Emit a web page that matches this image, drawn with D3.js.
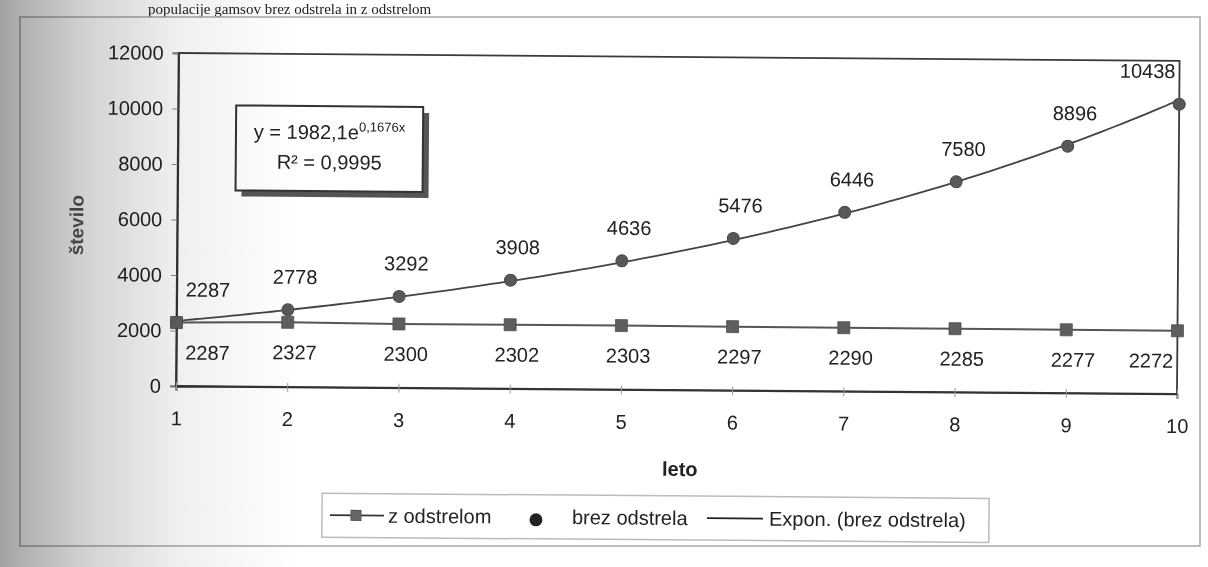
<!DOCTYPE html>
<html>
<head>
<meta charset="utf-8">
<script src="https://cdn.jsdelivr.net/npm/d3@7"></script>
<style>
  html, body { margin: 0; padding: 0; background: #ffffff; }
  svg { display: block; font-family: "Liberation Sans", Arial, sans-serif; }
</style>
</head>
<body>
<svg id="chart" width="1208" height="567"></svg>
<script>
// Population of chamois over ten years, with and without culling
const years = [1, 2, 3, 4, 5, 6, 7, 8, 9, 10];
const zOdstrelom = [2287, 2327, 2300, 2302, 2303, 2297, 2290, 2285, 2277, 2272];
const brezOdstrela = [2287, 2778, 3292, 3908, 4636, 5476, 6446, 7580, 8896, 10438];
const yTicks = [0, 2000, 4000, 6000, 8000, 10000, 12000];
// exponential trendline fitted to "brez odstrela": y = A * e^(B x)
const trendA = 1982.1;
const trendB = 0.1676;
const trendR2 = "0,9995";
const seriesNames = ["z odstrelom", "brez odstrela", "Expon. (brez odstrela)"];
const caption = "populacije gamsov brez odstrela in z odstrelom";

const W = 1208, H = 567;
const svg = d3.select("#chart");
const defs = svg.append("defs");

// paper background
svg.append("rect").attr("width", W).attr("height", H).attr("fill", "#ffffff");

// caption line above the chart
svg.append("text")
  .attr("x", 148).attr("y", 14)
  .attr("font-family", "'Liberation Serif', 'Times New Roman', serif")
  .attr("font-size", 15)
  .attr("fill", "#222")
  .text(caption);

// chart area frame
svg.append("rect")
  .attr("x", 20).attr("y", 17).attr("width", 1180).attr("height", 529)
  .attr("fill", "none").attr("stroke", "#a9a9a9").attr("stroke-width", 1.5);

// plot geometry
const plot = { left: 176, right: 1177, top: 53, bottom: 386 };
const x = d3.scaleLinear().domain([1, 10]).range([plot.left, plot.right]);
const y = d3.scaleLinear().domain([0, 12000]).range([plot.bottom, plot.top]);

// the whole chart sits with a slight tilt
const g = svg.append("g")
  .attr("transform", `rotate(0.45, ${plot.left}, ${plot.bottom})`);

// plot area border
g.append("rect")
  .attr("x", plot.left).attr("y", plot.top)
  .attr("width", plot.right - plot.left).attr("height", plot.bottom - plot.top)
  .attr("fill", "none").attr("stroke", "#3a3a3a").attr("stroke-width", 1.8);

// y axis
const yAxis = d3.axisLeft(y).tickValues(yTicks).tickSize(6).tickPadding(9)
  .tickFormat(d3.format("d"));
const yAxisG = g.append("g").attr("transform", `translate(${plot.left},0)`).call(yAxis);
yAxisG.select(".domain").attr("stroke", "#333").attr("stroke-width", 1.8);
yAxisG.selectAll(".tick line").attr("stroke", "#888");
yAxisG.selectAll(".tick text")
  .attr("font-size", 20).attr("fill", "#222")
  .attr("font-family", "'Liberation Sans', Arial, sans-serif");

// x axis (category ticks on the points)
const xAxis = d3.axisBottom(x).tickValues(years).tickSize(5).tickPadding(20)
  .tickFormat(d3.format("d"));
const xAxisG = g.append("g").attr("transform", `translate(0,${plot.bottom})`).call(xAxis);
xAxisG.select(".domain").attr("stroke", "#333").attr("stroke-width", 1.8);
xAxisG.selectAll(".tick line").attr("stroke", "#999").attr("y1", -4);
xAxisG.selectAll(".tick text")
  .attr("font-size", 20).attr("fill", "#222")
  .attr("font-family", "'Liberation Sans', Arial, sans-serif");

// axis titles
g.append("text")
  .attr("transform", `translate(${(plot.left + plot.right) / 2 + 4}, 472)`)
  .attr("text-anchor", "middle")
  .attr("font-size", 20).attr("font-weight", "bold").attr("fill", "#222")
  .text("leto");
g.append("text")
  .attr("transform", "translate(82, 226) rotate(-90)")
  .attr("text-anchor", "middle")
  .attr("font-size", 19).attr("font-weight", "bold").attr("fill", "#555")
  .text("število");

// series: z odstrelom (line + square markers)
const rows = years.map((yr, i) => ({ yr, z: zOdstrelom[i], b: brezOdstrela[i] }));
const zLine = d3.line().x(d => x(d.yr)).y(d => y(d.z));
g.append("path").datum(rows)
  .attr("d", zLine).attr("fill", "none")
  .attr("stroke", "#555").attr("stroke-width", 2);

// exponential trendline of brez odstrela
const trendPts = d3.range(1, 10.001, 0.1).map(t => ({ t, v: trendA * Math.exp(trendB * t) }));
g.append("path").datum(trendPts)
  .attr("d", d3.line().x(d => x(d.t)).y(d => y(d.v)).curve(d3.curveBasis))
  .attr("fill", "none").attr("stroke", "#444").attr("stroke-width", 1.8);

// brez odstrela markers (circles, no connecting line)
g.selectAll("circle.brez").data(rows).join("circle")
  .attr("class", "brez")
  .attr("cx", d => x(d.yr)).attr("cy", d => y(d.b)).attr("r", 6)
  .attr("fill", "#585858").attr("stroke", "#4a4a4a").attr("stroke-width", 1);

// z odstrelom markers
const sq = 12;
g.selectAll("rect.z").data(rows).join("rect")
  .attr("class", "z")
  .attr("x", d => x(d.yr) - sq / 2).attr("y", d => y(d.z) - sq / 2)
  .attr("width", sq).attr("height", sq)
  .attr("fill", "#5e5e5e").attr("stroke", "#505050").attr("stroke-width", 0.8);

// data labels, kept inside the plot area
const labelFont = 20;
const approxW = s => String(s).length * 0.556 * labelFont;
function labelX(cx, text) {
  const w = approxW(text);
  let c = cx + 7;
  if (c - w / 2 < plot.left + 9) c = plot.left + 9 + w / 2;
  if (c + w / 2 > plot.right - 4) c = plot.right - 4 - w / 2;
  return c;
}
g.selectAll("text.lblB").data(rows).join("text")
  .attr("class", "lblB")
  .attr("x", d => labelX(x(d.yr), d.b))
  .attr("y", d => y(d.b) - 26)
  .attr("text-anchor", "middle")
  .attr("font-size", labelFont).attr("fill", "#222")
  .text(d => d.b);
g.selectAll("text.lblZ").data(rows).join("text")
  .attr("class", "lblZ")
  .attr("x", d => labelX(x(d.yr), d.z))
  .attr("y", d => y(d.z) + 37)
  .attr("text-anchor", "middle")
  .attr("font-size", labelFont).attr("fill", "#222")
  .text(d => d.z);

// trendline equation box with drop shadow
const eq = { x: 234, y: 105, w: 187, h: 85 };
g.append("rect")
  .attr("x", eq.x + 6).attr("y", eq.y + 6).attr("width", eq.w).attr("height", eq.h)
  .attr("fill", "#555");
g.append("rect")
  .attr("x", eq.x).attr("y", eq.y).attr("width", eq.w).attr("height", eq.h)
  .attr("fill", "#fff").attr("stroke", "#333").attr("stroke-width", 2);
const eqText = g.append("text")
  .attr("x", eq.x + eq.w / 2).attr("y", eq.y + 33)
  .attr("text-anchor", "middle").attr("font-size", 20).attr("fill", "#222");
eqText.append("tspan").text(`y = ${String(trendA).replace(".", ",")}e`);
eqText.append("tspan").attr("font-size", 13).attr("dy", -8)
  .text(`${String(trendB).replace(".", ",")}x`);
g.append("text")
  .attr("x", eq.x + eq.w / 2).attr("y", eq.y + 63)
  .attr("text-anchor", "middle").attr("font-size", 20).attr("fill", "#222")
  .text(`R² = ${trendR2}`);

// legend
const lg = g.append("g");
const lb = { x: 323, y: 492, w: 667, h: 44 };
lg.append("rect")
  .attr("x", lb.x).attr("y", lb.y).attr("width", lb.w).attr("height", lb.h)
  .attr("fill", "#fff").attr("stroke", "#bbb").attr("stroke-width", 1.5);
const ly = lb.y + lb.h / 2;
lg.append("line").attr("x1", 331).attr("x2", 385).attr("y1", ly).attr("y2", ly)
  .attr("stroke", "#333").attr("stroke-width", 1.8);
lg.append("rect").attr("x", 352).attr("y", ly - 5).attr("width", 10).attr("height", 10)
  .attr("fill", "#666").attr("stroke", "#555");
lg.append("text").attr("x", 389).attr("y", ly + 7).attr("font-size", 20).attr("fill", "#222")
  .text(seriesNames[0]);
lg.append("circle").attr("cx", 537).attr("cy", ly + 3).attr("r", 6.5).attr("fill", "#222");
lg.append("text").attr("x", 573).attr("y", ly + 7).attr("font-size", 20).attr("fill", "#222")
  .text(seriesNames[1]);
lg.append("line").attr("x1", 708).attr("x2", 764).attr("y1", ly).attr("y2", ly)
  .attr("stroke", "#222").attr("stroke-width", 1.6);
lg.append("text").attr("x", 770).attr("y", ly + 7).attr("font-size", 20).attr("fill", "#222")
  .text(seriesNames[2]);

// shading along the left edge of the sheet
const shade = defs.append("linearGradient").attr("id", "leftShade")
  .attr("x1", "0").attr("x2", "1").attr("y1", "0").attr("y2", "0");
[[0, "#a2a2a2"], [0.07, "#b0b0b0"], [0.3, "#d4d4d4"], [0.6, "#f0f0f0"], [1, "#ffffff"]]
  .forEach(([o, c]) => shade.append("stop").attr("offset", o).attr("stop-color", c));
svg.append("rect")
  .attr("x", 0).attr("y", 0).attr("width", 300).attr("height", H)
  .attr("fill", "url(#leftShade)")
  .style("mix-blend-mode", "multiply");
</script>
</body>
</html>
